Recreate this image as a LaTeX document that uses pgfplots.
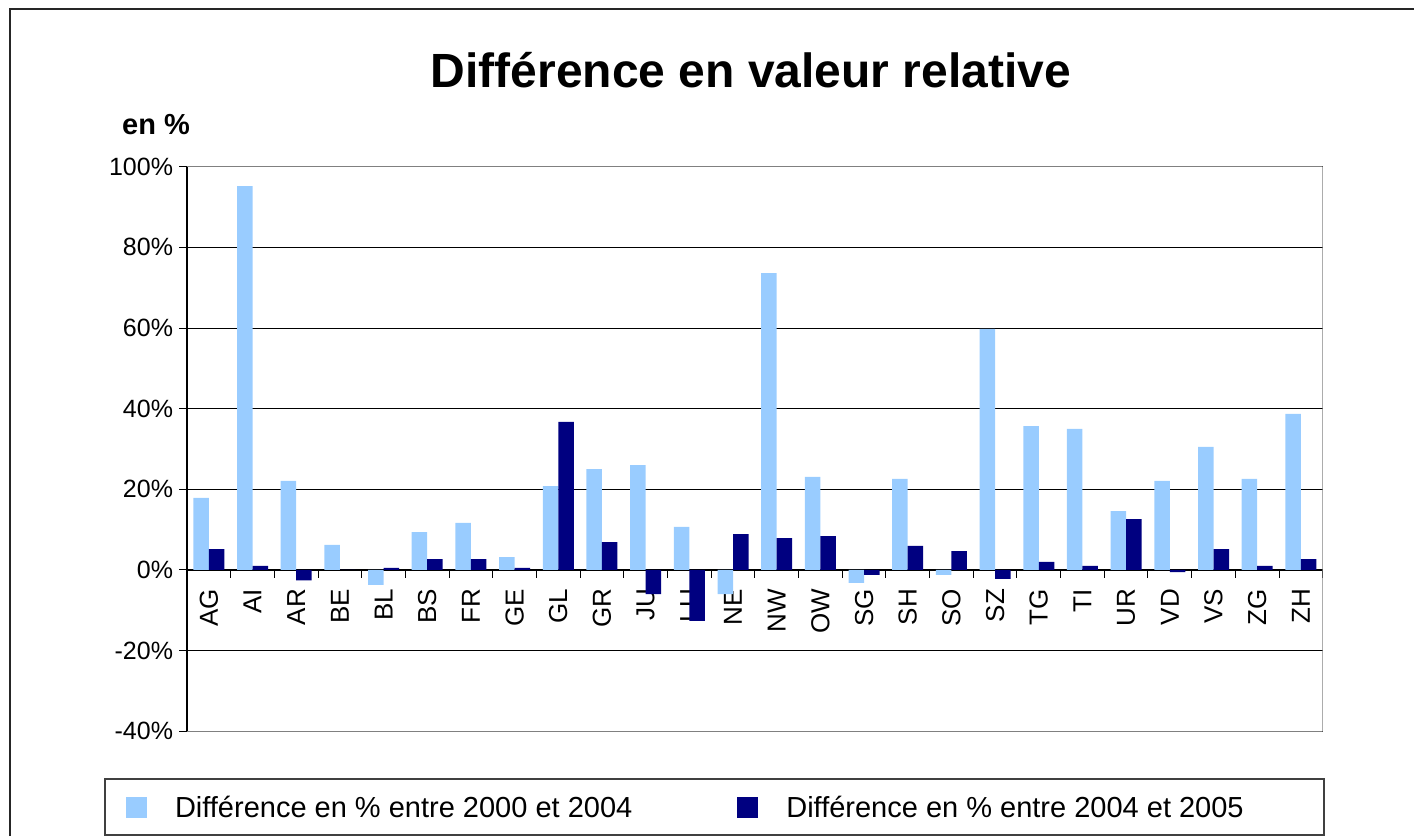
\documentclass[border=0pt]{standalone}
\usepackage{fontspec}
\setmainfont{Liberation Sans}
\usepackage{pgfplots}
\pgfplotsset{compat=1.18}
\definecolor{lightbar}{HTML}{99CCFF}
\definecolor{darkbar}{HTML}{000080}
\begin{document}
\begin{tikzpicture}[x=0.5pt,y=0.5pt]
\path[use as bounding box] (0,0) rectangle (1414,836);
\draw[line width=1pt, black!85] (10,0) -- (10,827) -- (1414,827);
\node[font=\bfseries\fontsize{24}{28}\selectfont] at (751,766) {Différence en valeur relative};
\node[font=\bfseries\fontsize{14.5}{17}\selectfont] at (156,711) {en \%};
\draw[line width=0.6pt, black!75] (105,1) rectangle (1324,57);
\begin{axis}[
  at={(93.5pt,52.35pt)}, anchor=south west, scale only axis,
  width=567.85pt, height=282.3pt,
  xmin=-0.5, xmax=25.5, ymin=-40, ymax=100,
  axis x line*=middle, axis y line*=left,
  axis line style={black, line width=0.6pt},
  ybar=0pt, bar width=7.75pt,
  xtick={0,...,25},
  xticklabels={AG,AI,AR,BE,BL,BS,FR,GE,GL,GR,JU,LU,NE,NW,OW,SG,SH,SO,SZ,TG,TI,UR,VD,VS,ZG,ZH},
  major x tick style={draw=none},
  minor xtick={-0.5,0.5,...,25.5},
  minor x tick style={black, line width=0.5pt},
  minor tick length=4pt,
  major tick length=3.8pt,
  tick align=outside,
  xticklabel style={rotate=90, anchor=east, inner sep=0pt, font=\fontsize{13}{15}\selectfont},
  xticklabel shift=5.5pt,
  ytick={-40,-20,...,100},
  yticklabels={-40\%,-20\%,0\%,20\%,40\%,60\%,80\%,100\%},
  yticklabel style={anchor=east, inner sep=0pt, font=\fontsize{12.5}{15}\selectfont},
  yticklabel shift=3pt,
  ytick style={black, line width=0.5pt},
  ymajorgrids, grid style={black, line width=0.5pt},
  legend columns=2,
  legend image code/.code={\fill[#1] (0pt,-5.25pt) rectangle (10.5pt,5.25pt);},
  legend style={at={(axis description cs:-0.0537,-0.1358)}, anchor=west, draw=none, fill=none,
    inner sep=0pt, outer sep=0pt, nodes={inner sep=0pt},
    font=\fontsize{14.5}{17}\selectfont,
    /tikz/every odd column/.append style={column sep=14pt},
    /tikz/every even column/.append style={column sep=52.5pt}},
]
\addplot[fill=lightbar, draw=none] coordinates {
(0,17.9) (1,95.2) (2,22.1) (3,6.2) (4,-3.7) (5,9.4) (6,11.7) (7,3.2) (8,20.8) (9,25.0)
(10,26.0) (11,10.7) (12,-6.0) (13,73.6) (14,23.1) (15,-3.2) (16,22.6) (17,-1.2) (18,59.8)
(19,35.7) (20,35.0) (21,14.6) (22,22.1) (23,30.5) (24,22.6) (25,38.7)};
\addlegendentry{Différence en \% entre 2000 et 2004}
\addplot[fill=darkbar, draw=none] coordinates {
(0,5.2) (1,1.0) (2,-2.6) (3,0) (4,0.5) (5,2.7) (6,2.7) (7,0.5) (8,36.7) (9,6.9)
(10,-6.0) (11,-12.6) (12,8.9) (13,7.9) (14,8.4) (15,-1.2) (16,6.0) (17,4.7) (18,-2.2)
(19,2.0) (20,1.0) (21,12.6) (22,-0.5) (23,5.2) (24,1.0) (25,2.7)};
\addlegendentry{Différence en \% entre 2004 et 2005}
\draw[gray, line width=0.75pt] (rel axis cs:0,1) -- (rel axis cs:1,1) -- (rel axis cs:1,0) -- (rel axis cs:0,0);
\end{axis}
\end{tikzpicture}
\end{document}
